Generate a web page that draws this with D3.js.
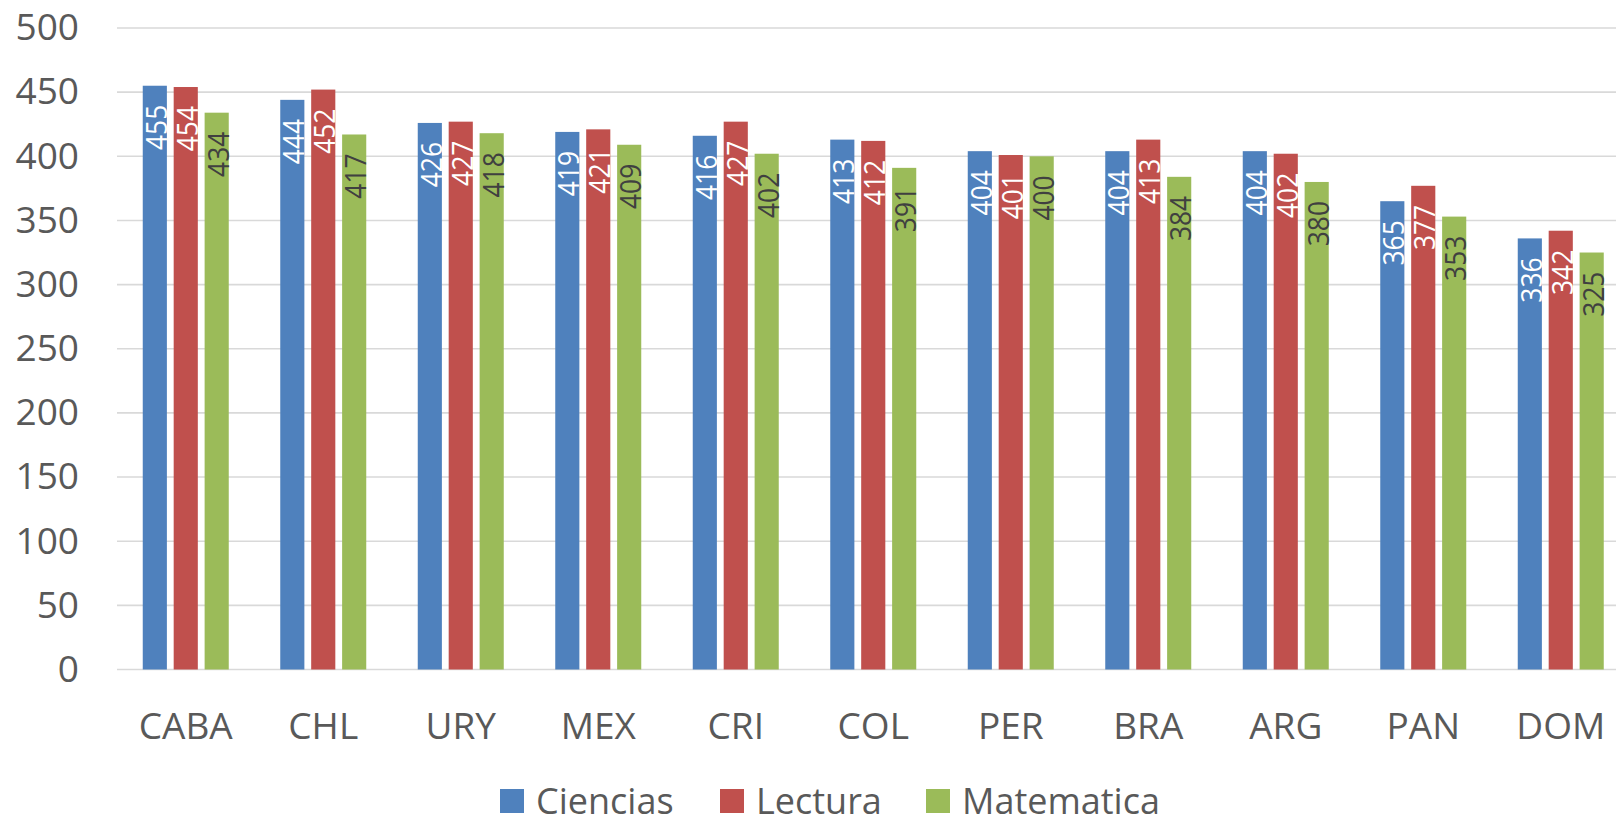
<!DOCTYPE html>
<html>
<head>
<meta charset="utf-8">
<script src="https://cdn.jsdelivr.net/npm/d3@7"></script>
<style>
  html, body { margin: 0; padding: 0; background: #fff; }
  svg { display: block; font-family: "Open Sans", sans-serif; }
</style>
</head>
<body>
<svg id="chart" width="1616" height="818"></svg>
<script>
// puntajes por país — barras agrupadas, etiquetas giradas dentro de cada barra
const countries = ["CABA", "CHL", "URY", "MEX", "CRI", "COL", "PER", "BRA", "ARG", "PAN", "DOM"];
const series = ["Ciencias", "Lectura", "Matematica"];
const ciencias   = [455, 444, 426, 419, 416, 413, 404, 404, 404, 365, 336];
const lectura    = [454, 452, 427, 421, 427, 412, 401, 413, 402, 377, 342];
const matematica = [434, 417, 418, 409, 402, 391, 400, 384, 380, 353, 325];
const yTicks = [0, 50, 100, 150, 200, 250, 300, 350, 400, 450, 500];

const COLORS = { Ciencias: "#4f81bd", Lectura: "#c0504d", Matematica: "#9bbb59" };
const LABEL_FILL = { Ciencias: "#ffffff", Lectura: "#ffffff", Matematica: "#404040" };
const TXT = "#595959", GRID = "#d9d9d9";

const valuesBySeries = { Ciencias: ciencias, Lectura: lectura, Matematica: matematica };
const rows = countries.map((c, i) => ({
  country: c,
  vals: series.map(s => ({ s, v: valuesBySeries[s][i], c }))
}));

const svg = d3.select("#chart");
const left = 117, step = 137.5;
const x = d3.scaleBand().domain(countries).range([left, left + step * countries.length]).padding(0);
const xi = d3.scaleBand().domain(series).range([-43, 43]).paddingInner(0.22).paddingOuter(0);
const y = d3.scaleLinear().domain([0, 500]).range([669.5, 28]);

// gridlines
svg.append("g").selectAll("line").data(yTicks).join("line")
  .attr("x1", left).attr("x2", 1616)
  .attr("y1", d => y(d)).attr("y2", d => y(d))
  .attr("stroke", GRID).attr("stroke-width", 1.6);

// y axis labels
const yAxis = svg.append("g").attr("transform", "translate(79,0)")
  .call(d3.axisLeft(y).tickValues(yTicks).tickSize(0).tickPadding(0));
yAxis.select(".domain").remove();
yAxis.selectAll("text").attr("fill", TXT).style("font-size", "37px").style("font-family", "'Open Sans', sans-serif");

// x axis labels
const xAxis = svg.append("g").attr("transform", "translate(0,700)")
  .call(d3.axisBottom(x).tickSize(0).tickPadding(0));
xAxis.select(".domain").remove();
xAxis.selectAll("text").attr("fill", TXT).attr("dy", "1.06em")
  .style("font-size", "37px").style("font-family", "'Open Sans', sans-serif");

// bars
const groups = svg.append("g").selectAll("g").data(rows).join("g")
  .attr("transform", d => `translate(${x(d.country) + x.bandwidth() / 2},0)`);

groups.selectAll("rect").data(d => d.vals).join("rect")
  .attr("x", d => xi(d.s)).attr("width", xi.bandwidth())
  .attr("y", d => y(d.v)).attr("height", d => y(0) - y(d.v))
  .attr("fill", d => COLORS[d.s]);

// value labels, rotated, ending just below the top of the bar
groups.selectAll("text.val").data(d => d.vals).join("text")
  .attr("class", "val")
  .attr("transform", d => `translate(${xi(d.s) + xi.bandwidth()},${y(d.v) + 19}) rotate(-90) scale(0.88,1)`)
  .attr("text-anchor", "end")
  .attr("fill", d => LABEL_FILL[d.s])
  .style("font-size", "30px")
  .text(d => d.v);

// legend
const legendX = [500, 720, 926];
const leg = svg.append("g").selectAll("g").data(series).join("g")
  .attr("transform", (d, i) => `translate(${legendX[i]},0)`);
leg.append("rect").attr("x", 0).attr("y", 789).attr("width", 24).attr("height", 24)
  .attr("fill", d => COLORS[d]);
leg.append("text")
  .attr("x", 36).attr("y", 814)
  .attr("fill", TXT).style("font-size", "36px")
  .text(d => d);
</script>
</body>
</html>
